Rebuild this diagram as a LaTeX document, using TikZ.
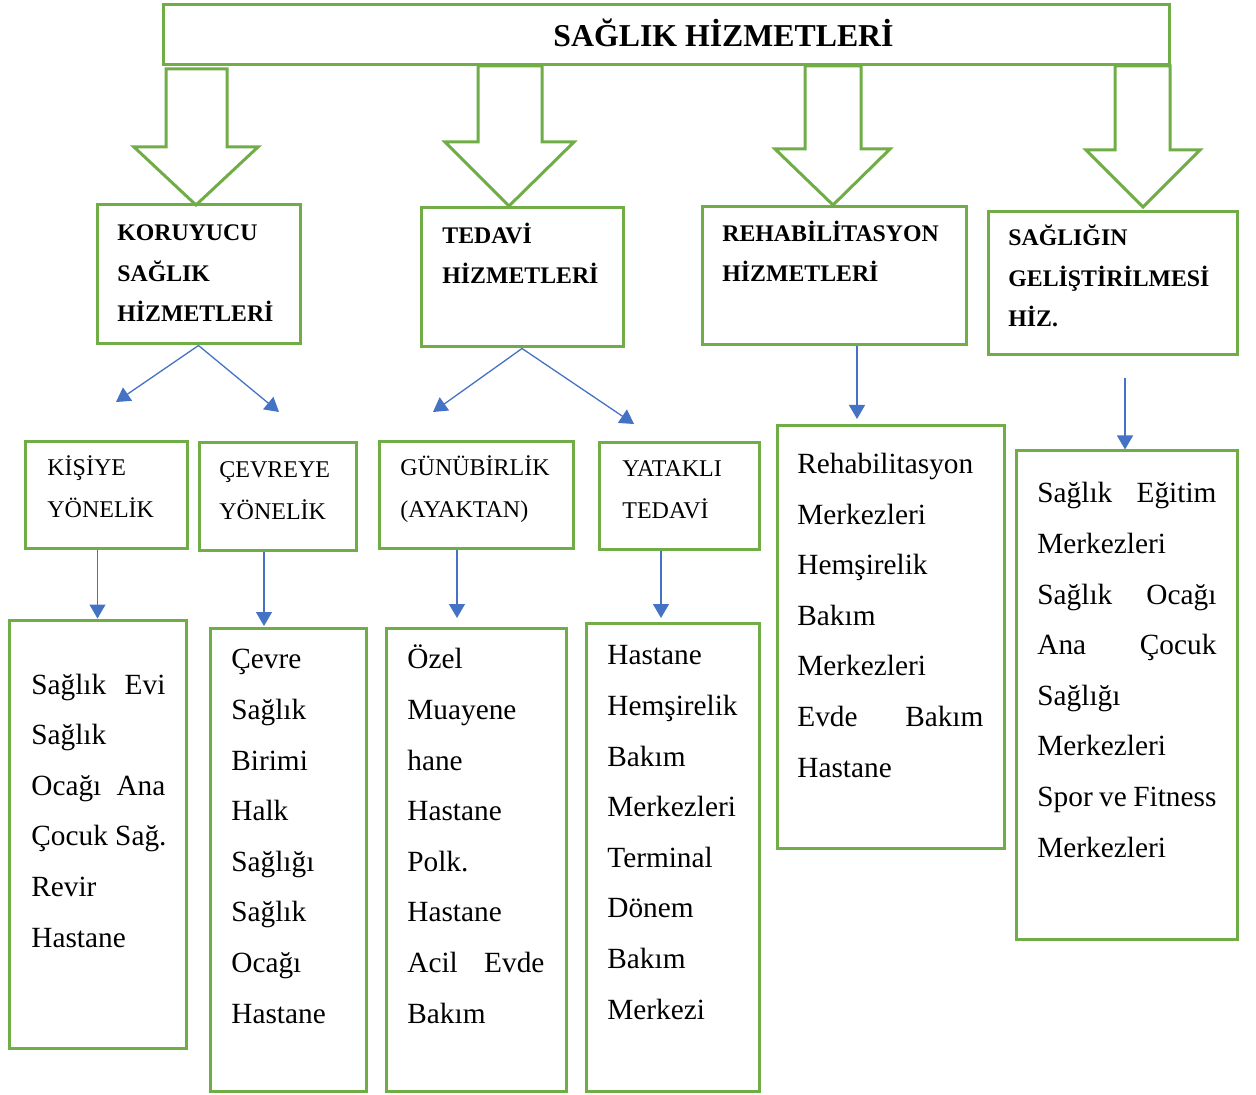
\documentclass[tikz,border=0pt]{standalone}
\usepackage{fontspec}
\setmainfont{Liberation Serif}
\usetikzlibrary{arrows.meta,fit}

\definecolor{boxgreen}{HTML}{70AD47}
\definecolor{linkblue}{HTML}{4472C4}

\newcommand{\spreadline}[2]{\makebox[#1][s]{#2}}

\begin{document}
\begin{tikzpicture}[
    x=0.5pt,
    y=-0.5pt,
    greenbox/.style={draw=boxgreen, line width=1.5pt, inner sep=0pt},
    blockarrow/.style={draw=boxgreen, fill=white, line width=1.5pt, line join=miter},
    link/.style={linkblue, line width=0.65pt, -{Triangle[length=7pt, width=8pt]}},
    titletext/.style={font=\bfseries\fontsize{15.9}{18}\selectfont, anchor=base west, inner sep=0pt},
    headtext/.style={font=\bfseries\fontsize{11.9}{20.4}\selectfont, align=left, anchor=base west, inner sep=0pt},
    subtext/.style={font=\fontsize{12}{20.75}\selectfont, align=left, anchor=base west, inner sep=0pt},
    listtext/.style={font=\fontsize{14.65}{25.3}\selectfont, align=left, anchor=base west, inner sep=0pt}
]

\useasboundingbox (0,0) rectangle (1256,1095);

% -------------------------------------------------------------------------
% Title
% -------------------------------------------------------------------------
\node[ greenbox, fit={(163,5) (1169,65)} ] (hizmetler) {};
\node[ titletext ] (hizmetler-text) at (553,47) {SAĞLIK HİZMETLERİ};

% -------------------------------------------------------------------------
% Block arrows: shaft left/right, top, head line, head left/right, tip
% -------------------------------------------------------------------------
\foreach \sl/\sr/\top/\hy/\hl/\hr/\tx/\ty in {
    166/227/69/147/134/258/196/205,
    478/542/66/142/445/574/509/206,
    805/861/66/149/775/890/833/205,
    1115/1170/66/150/1086/1200/1143/207}{
    \draw[ blockarrow ]
        (\sl,\top) -- (\sr,\top) -- (\sr,\hy) -- (\hr,\hy) -- (\tx,\ty)
        -- (\hl,\hy) -- (\sl,\hy) -- cycle;
}

% -------------------------------------------------------------------------
% Main groups (text placed at the baseline of its last line)
% -------------------------------------------------------------------------
\node[ greenbox, fit={(97,205) (300,344)} ] (koruyucu) {};
\node[ greenbox, fit={(421,208) (623,347)} ] (tedavi) {};
\node[ greenbox, fit={(702,207) (966,345)} ] (rehab) {};
\node[ greenbox, fit={(988,212) (1237,355)} ] (gelistirme) {};

\node[ headtext ] (koruyucu-text) at (117,322) {KORUYUCU\\SAĞLIK\\HİZMETLERİ};
\node[ headtext ] (tedavi-text) at (442,284) {TEDAVİ\\HİZMETLERİ};
\node[ headtext ] (rehab-text) at (722,282) {REHABİLİTASYON\\HİZMETLERİ};
\node[ headtext ] (gelistirme-text) at (1008,327) {SAĞLIĞIN\\GELİŞTİRİLMESİ\\HİZ.};

% -------------------------------------------------------------------------
% Sub groups
% -------------------------------------------------------------------------
\node[ greenbox, fit={(25,442) (187,548)} ] (kisiye) {};
\node[ greenbox, fit={(199,443) (356,550)} ] (cevreye) {};
\node[ greenbox, fit={(379,442) (573,548)} ] (gunubirlik) {};
\node[ greenbox, fit={(599,443) (759,549)} ] (yatakli) {};

\node[ subtext ] (kisiye-text) at (47,517) {KİŞİYE\\YÖNELİK};
\node[ subtext ] (cevreye-text) at (219,519) {ÇEVREYE\\YÖNELİK};
\node[ subtext ] (gunubirlik-text) at (400,517) {GÜNÜBİRLİK\\(AYAKTAN)};
\node[ subtext ] (yatakli-text) at (622,518) {YATAKLI\\TEDAVİ};

% -------------------------------------------------------------------------
% Lists
% -------------------------------------------------------------------------
\node[ greenbox, fit={(9,620) (186,1048)} ] (evi) {};
\node[ greenbox, fit={(210,628) (366,1091)} ] (cevre) {};
\node[ greenbox, fit={(386,628) (566,1091)} ] (ozel) {};
\node[ greenbox, fit={(586,623) (759,1091)} ] (hastane) {};
\node[ greenbox, fit={(777,426) (1004,848)} ] (merkez) {};
\node[ greenbox, fit={(1016,451) (1237,939)} ] (egitim) {};

\node[ listtext ] (evi-text) at (31,947)
    {\spreadline{67pt}{Sağlık Evi}\\Sağlık\\\spreadline{67pt}{Ocağı Ana}\\
     Çocuk Sağ.\\Revir\\Hastane};
\node[ listtext ] (cevre-text) at (231,1023)
    {Çevre\\Sağlık\\Birimi\\Halk\\Sağlığı\\Sağlık\\Ocağı\\Hastane};
\node[ listtext ] (ozel-text) at (407,1023)
    {Özel\\Muayene\\hane\\Hastane\\Polk.\\Hastane\\
     \spreadline{68.5pt}{Acil Evde}\\Bakım};
\node[ listtext ] (hastane-text) at (607,1019)
    {Hastane\\Hemşirelik\\Bakım\\Merkezleri\\Terminal\\Dönem\\Bakım\\Merkezi};
\node[ listtext ] (merkez-text) at (797,777)
    {Rehabilitasyon\\Merkezleri\\Hemşirelik\\Bakım\\Merkezleri\\
     \spreadline{93pt}{Evde Bakım}\\Hastane};
\node[ listtext ] (egitim-text) at (1037,857)
    {\spreadline{89.5pt}{Sağlık Eğitim}\\Merkezleri\\
     \spreadline{89.5pt}{Sağlık Ocağı}\\\spreadline{89.5pt}{Ana Çocuk}\\
     Sağlığı\\Merkezleri\\\spreadline{89.5pt}{Spor ve Fitness}\\Merkezleri};

% -------------------------------------------------------------------------
% Links
% -------------------------------------------------------------------------
\coordinate (kisiye-tip) at (116,402);
\coordinate (cevreye-tip) at (279,412);
\coordinate (gunubirlik-tip) at (433,412);
\coordinate (yatakli-tip) at (634,424);
\coordinate (merkez-tip) at (857,419);
\coordinate (egitim-start) at (1125,378);
\coordinate (cevre-tip) at (264,626);
\coordinate (ozel-tip) at (457,618);
\coordinate (hastane-tip) at (661,618);

\draw[ link ] (koruyucu.south) -- (kisiye-tip);
\draw[ link ] (koruyucu.south) -- (cevreye-tip);
\draw[ link ] (tedavi.south) -- (gunubirlik-tip);
\draw[ link ] (tedavi.south) -- (yatakli-tip);
\draw[ link ] (merkez-tip |- rehab.south) -- (merkez-tip);
\draw[ link ] (egitim-start) -- (egitim-start |- egitim.north);

\draw[ link ] (evi.north |- kisiye.south) -- (evi.north);
\draw[ link ] (cevre-tip |- cevreye.south) -- (cevre-tip);
\draw[ link ] (ozel-tip |- gunubirlik.south) -- (ozel-tip);
\draw[ link ] (hastane-tip |- yatakli.south) -- (hastane-tip);

\end{tikzpicture}
\end{document}
